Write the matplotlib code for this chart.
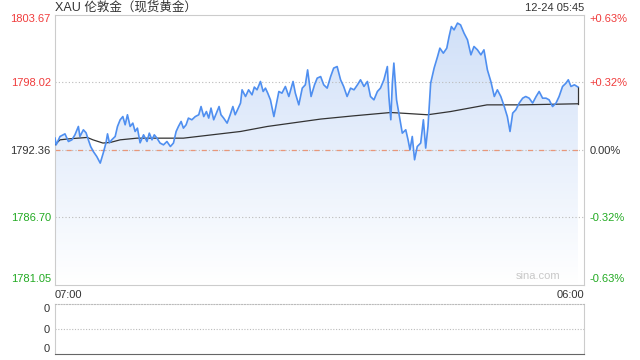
import numpy as np
import matplotlib
matplotlib.use("Agg")
import matplotlib.pyplot as plt
from matplotlib.colors import LinearSegmentedColormap

# ==============================
# DATOS
# ==============================

PREV_CLOSE = 1792.36
PRICE_TICKS = [1803.67, 1798.02, 1792.36, 1786.70, 1781.05]
X_END = 1380  # 07:00 -> 06:00 (minutos)
X_LABELS = ["07:00", "06:00"]
TITLE = "XAU 伦敦金（现货黄金）"
STAMP = "12-24 05:45"

# minutos desde las 07:00
minutes = [
    0, 3, 13, 26, 35, 44, 52, 61, 65, 74, 81, 87, 93, 100, 109, 118, 126, 133,
    137, 142, 148, 157, 163, 170, 177, 183, 189, 196, 203, 209, 215, 222, 231,
    240, 246, 253, 259, 266, 274, 283, 292, 301, 309, 316, 322, 329, 335, 342,
    348, 357, 366, 375, 381, 388, 395, 401, 407, 414, 421, 428, 433, 440, 449,
    457, 464, 470, 476, 484, 488, 497, 505, 514, 520, 527, 536, 543, 549, 555,
    562, 571, 578, 584, 592, 601, 610, 621, 627, 636, 645, 653, 659, 668, 677,
    684, 693, 701, 710, 719, 727, 736, 745, 753, 762, 771, 780, 789, 797, 806,
    815, 823, 832, 841, 849, 858, 867, 871, 876, 880, 884, 891, 897, 906, 915,
    921, 926, 932, 938, 945, 954, 961, 967, 973, 980, 989, 998, 1004, 1013,
    1022, 1028, 1034, 1041, 1050, 1058, 1067, 1076, 1085, 1093, 1102, 1111,
    1119, 1128, 1137, 1146, 1154, 1163, 1172, 1180, 1187, 1194, 1202, 1211,
    1220, 1228, 1237, 1246, 1255, 1263, 1272, 1281, 1289, 1298, 1307, 1315,
    1324, 1333, 1339, 1346, 1355, 1364,
]

prices = [
    1793.32, 1792.75, 1793.45, 1793.67, 1793.03, 1793.17, 1793.59, 1794.29,
    1793.45, 1794.01, 1793.76, 1793.17, 1792.61, 1792.19, 1791.77, 1791.22,
    1792.08, 1792.92, 1793.67, 1792.92, 1793.17, 1793.45, 1794.29, 1794.85,
    1795.12, 1794.43, 1795.27, 1794.29, 1794.57, 1793.87, 1794.15, 1792.92,
    1793.59, 1793.03, 1793.73, 1793.17, 1793.59, 1793.31, 1792.90, 1792.75,
    1793.03, 1792.61, 1792.90, 1793.87, 1794.29, 1794.71, 1794.15, 1794.43,
    1794.99, 1794.85, 1795.12, 1795.27, 1795.96, 1795.12, 1795.54, 1794.99,
    1795.83, 1794.85, 1795.41, 1795.96, 1795.27, 1794.99, 1794.57, 1795.27,
    1795.96, 1795.27, 1795.68, 1796.25, 1797.36, 1796.80, 1797.36, 1796.94,
    1797.59, 1797.36, 1798.06, 1797.22, 1797.50, 1797.08, 1796.52, 1795.12,
    1796.25, 1797.22, 1797.08, 1797.64, 1796.80, 1798.06, 1797.08, 1796.10,
    1797.50, 1797.78, 1799.03, 1796.80, 1797.78, 1798.34, 1798.47, 1797.78,
    1797.50, 1798.47, 1799.18, 1799.31, 1798.20, 1797.64, 1796.80, 1797.50,
    1797.36, 1797.78, 1798.20, 1797.64, 1798.06, 1796.80, 1796.52, 1797.22,
    1797.50, 1798.20, 1799.31, 1796.80, 1794.85, 1797.92, 1799.60, 1796.52,
    1795.41, 1793.73, 1794.01, 1793.17, 1792.33, 1793.45, 1791.50, 1792.61,
    1792.90, 1794.85, 1792.48, 1794.29, 1797.92, 1799.18, 1800.15, 1800.85,
    1800.43, 1800.85, 1801.82, 1802.66, 1802.38, 1802.95, 1802.80, 1802.11,
    1801.55, 1800.29, 1800.99, 1800.71, 1800.29, 1800.71, 1799.03, 1798.06,
    1796.80, 1797.36, 1796.80, 1795.96, 1795.12, 1793.87, 1795.41, 1795.68,
    1796.25, 1796.66, 1796.80, 1796.66, 1796.25, 1796.80, 1797.22, 1796.66,
    1796.66, 1796.52, 1795.96, 1796.25, 1796.80, 1797.64, 1797.92, 1798.20,
    1797.64, 1797.78, 1797.60,
]

# precio medio
avg_minutes = [0, 13, 39, 84, 99, 125, 144, 170, 214, 335, 484, 554, 693,
               779, 876, 902, 972, 1032, 1127, 1215, 1364]
avg_prices = [1792.75, 1793.17, 1793.26, 1793.37, 1793.17, 1792.90, 1792.95,
              1793.17, 1793.31, 1793.31, 1793.87, 1794.29, 1794.91, 1795.18,
              1795.46, 1795.41, 1795.27, 1795.54, 1796.10, 1796.10, 1796.19]

# volumen (sin datos)
vol_ticks = [0, 0.5, 1]
vol_labels = ["0", "0", "0"]

# ==============================
# ESTILO
# ==============================

plt.rcParams["font.family"] = ["Liberation Sans", "Noto Sans CJK SC", "DejaVu Sans"]
RED = "#f03c3c"
GREEN = "#22aa22"
DARK = "#333333"
BORDER = "#cccccc"
LINE = "#4f8ff0"


def tick_color(p):
    if p > PREV_CLOSE + 0.001:
        return RED
    if p < PREV_CLOSE - 0.001:
        return GREEN
    return DARK


# ==============================
# GRAFICO
# ==============================

def plot_main(fig):
    ax = fig.add_axes([55 / 640, 1 - 284.5 / 360, 529 / 640, 270 / 360])
    ymin, ymax = PRICE_TICKS[-1], PRICE_TICKS[0]
    ax.set_xlim(0, X_END)
    ax.set_ylim(ymin, ymax)

    # relleno con degradado
    poly = ax.fill_between(minutes, prices, ymin, color="none", lw=0)
    cmap = LinearSegmentedColormap.from_list("g", ["#ffffff", "#cfdff8"])
    grad = np.linspace(0, 1, 256).reshape(-1, 1)
    img = ax.imshow(grad, cmap=cmap, aspect="auto", origin="lower",
                    extent=[0, X_END, ymin, ymax], zorder=1)
    img.set_clip_path(poly.get_paths()[0], transform=ax.transData)

    # lineas de referencia
    for p in PRICE_TICKS[1:-1]:
        if p == PREV_CLOSE:
            ax.axhline(p, color="#bbbbbb", lw=0.8, ls=(0, (1, 2)), zorder=2)
            ax.axhline(p, color="#e8977a", lw=0.9, ls=(0, (4, 5)), zorder=2)
        else:
            ax.axhline(p, color="#bbbbbb", lw=0.8, ls=(0, (1, 2)), zorder=2)

    ax.plot(minutes, prices, color=LINE, lw=1.2, zorder=4)
    ax.plot(avg_minutes, avg_prices, color=DARK, lw=0.9, zorder=3)
    ax.plot([minutes[-1], minutes[-1]], [avg_prices[-1], prices[-1]],
            color=DARK, lw=0.9, zorder=3)

    for s in ax.spines.values():
        s.set_color(BORDER)
        s.set_linewidth(0.8)

    ax.set_yticks(PRICE_TICKS)
    ax.set_yticklabels([f"{p:.2f}" for p in PRICE_TICKS], fontsize=8)
    ax.tick_params(axis="y", length=0, pad=3)
    for lbl, p in zip(ax.get_yticklabels(), PRICE_TICKS):
        lbl.set_color(tick_color(p))
    labels = ax.get_yticklabels()
    labels[0].set_va("top")
    labels[-1].set_va("bottom")

    ax.set_xticks([0, X_END])
    ax.set_xticklabels(X_LABELS, fontsize=8, color=DARK)
    ax.tick_params(axis="x", length=0, pad=4)
    xl = ax.get_xticklabels()
    xl[0].set_ha("left")
    xl[1].set_ha("right")

    # eje derecho en porcentaje
    ax2 = ax.twinx()
    ax2.set_ylim(ymin, ymax)
    ax2.set_yticks(PRICE_TICKS)
    pct = [(p / PREV_CLOSE - 1) * 100 for p in PRICE_TICKS]
    ax2.set_yticklabels([f"{v:+.2f}%" if abs(v) > 0.001 else "0.00%" for v in pct],
                        fontsize=8)
    ax2.tick_params(axis="y", length=0, pad=4)
    for lbl, p in zip(ax2.get_yticklabels(), PRICE_TICKS):
        lbl.set_color(tick_color(p))
    r = ax2.get_yticklabels()
    r[0].set_va("top")
    r[-1].set_va("bottom")
    for s in ax2.spines.values():
        s.set_visible(False)

    ax.text(0, 1.013, TITLE, transform=ax.transAxes, fontsize=9, color=DARK,
            ha="left", va="baseline")
    ax.text(1, 1.013, STAMP, transform=ax.transAxes, fontsize=8, color=DARK,
            ha="right", va="baseline")
    ax.text(0.955, 0.012, "sina.com", transform=ax.transAxes, fontsize=8,
            color="#c8c8c8", ha="right", va="bottom")


def plot_volume(fig):
    ax = fig.add_axes([55 / 640, 1 - 354 / 360, 529 / 640, 50 / 360])
    ax.set_xlim(0, X_END)
    ax.set_ylim(0, 1)
    ax.axhline(0.5, color="#bbbbbb", lw=0.8, ls=(0, (1, 1.5)))
    ax.spines["top"].set_linestyle((0, (1, 1.5)))
    ax.spines["top"].set_color("#bbbbbb")
    ax.spines["left"].set_color(BORDER)
    ax.spines["right"].set_color(BORDER)
    ax.spines["bottom"].set_color("#666666")
    for s in ax.spines.values():
        s.set_linewidth(0.8)
    ax.set_xticks([])
    ax.set_yticks(vol_ticks)
    ax.set_yticklabels(vol_labels, fontsize=8, color=DARK)
    ax.tick_params(axis="y", length=0, pad=4)
    lbls = ax.get_yticklabels()
    lbls[0].set_va("bottom")
    lbls[-1].set_va("top")


def main():
    fig = plt.figure(figsize=(6.4, 3.6), dpi=100)
    plot_main(fig)
    plot_volume(fig)
    fig.savefig("out.png", dpi=100, facecolor="white")


if __name__ == "__main__":
    main()
